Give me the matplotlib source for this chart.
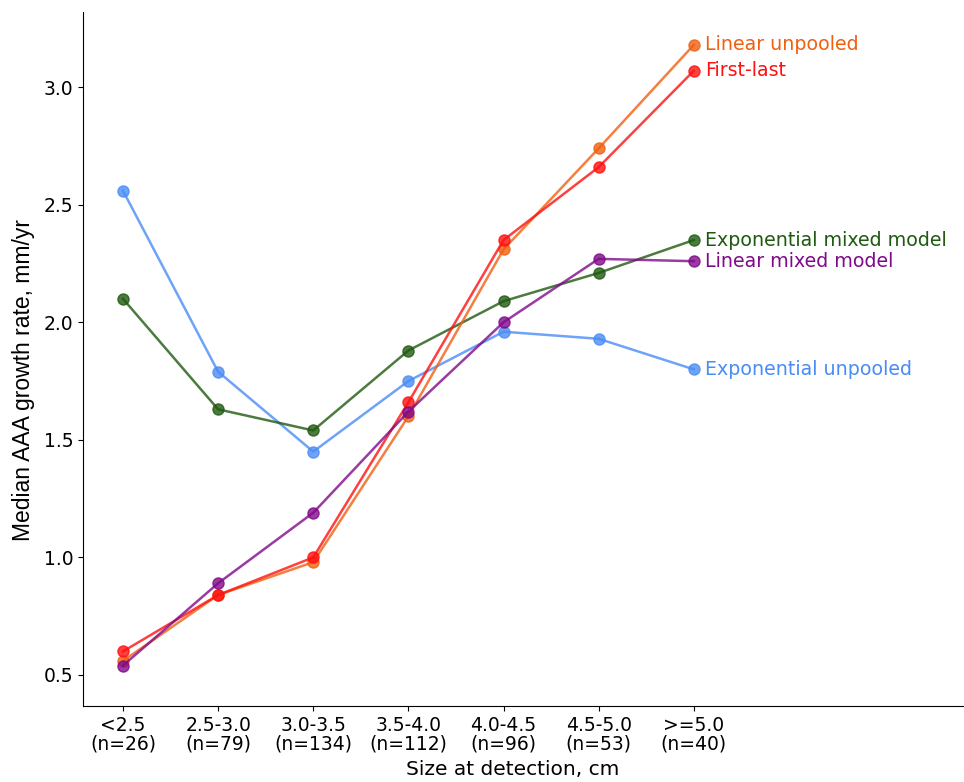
import numpy as np
import matplotlib.pyplot as plt

categories = ['<2.5\n(n=26)', '2.5-3.0\n(n=79)', '3.0-3.5\n(n=134)', '3.5-4.0\n(n=112)',
              '4.0-4.5\n(n=96)', '4.5-5.0\n(n=53)', '>=5.0\n(n=40)']

exp_unpooled = [2.56, 1.79, 1.45, 1.75, 1.96, 1.93, 1.80]
exp_mixed = [2.10, 1.63, 1.54, 1.88, 2.09, 2.21, 2.35]
lin_unpooled = [0.56, 0.84, 0.98, 1.60, 2.31, 2.74, 3.18]
first_last = [0.60, 0.84, 1.00, 1.66, 2.35, 2.66, 3.07]
lin_mixed = [0.54, 0.89, 1.19, 1.62, 2.00, 2.27, 2.26]

series = [
    ('Exponential unpooled', exp_unpooled, '#4a8cf5'),
    ('Exponential mixed model', exp_mixed, '#1f5a10'),
    ('Linear unpooled', lin_unpooled, '#f06010'),
    ('First-last', first_last, '#ff1010'),
    ('Linear mixed model', lin_mixed, '#800a8a'),
]

fig = plt.figure(figsize=(9.64, 7.82), dpi=100)
ax = fig.add_axes([83/964, 1 - 706/782, 1 - 83/964, (706 - 12)/782])

x = np.arange(len(categories))
for name, vals, col in series:
    ax.plot(x, vals, '-o', color=col, alpha=0.8, lw=1.8, ms=8)
    ax.annotate(name, (x[-1], vals[-1]), xytext=(8, 0), textcoords='offset points',
                va='center', ha='left', color=col, fontsize=13.7)

ax.set_xticks(x)
ax.set_xticklabels(categories, fontsize=13.5, linespacing=1.0)
ax.set_yticks([0.5, 1.0, 1.5, 2.0, 2.5, 3.0])
ax.tick_params(axis='y', labelsize=13.5)
ax.set_xlim(-0.42, 8.84)
ax.set_ylim(0.368, 3.32)
ax.spines['top'].set_visible(False)
ax.spines['right'].set_visible(False)
ax.set_ylabel('Median AAA growth rate, mm/yr', fontsize=16.5, family='Liberation Sans')
ax.yaxis.set_label_coords(-0.054, 0.47)
ax.set_xlabel('Size at detection, cm', fontsize=14.5)
ax.xaxis.set_label_coords(0.488, -0.078)

fig.savefig('out.png', dpi=100)
